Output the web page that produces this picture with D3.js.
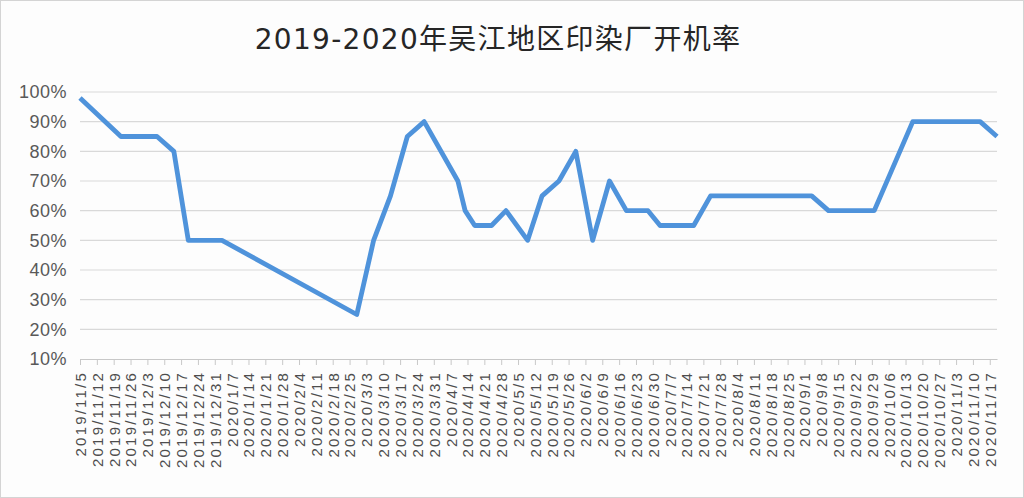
<!DOCTYPE html>
<html>
<head>
<meta charset="utf-8">
<script src="https://cdn.jsdelivr.net/npm/d3@7"></script>
<style>
  html, body { margin: 0; padding: 0; background: #fff; }
  svg { display: block; }
</style>
</head>
<body>
<div id="chart"></div>
<script>
// 开机率数据 (日期, %)
const dates = [
  "2019/11/5", "2019/11/22", "2019/12/7", "2019/12/14", "2019/12/20",
  "2020/1/3", "2020/2/28", "2020/3/6", "2020/3/13", "2020/3/20",
  "2020/3/27", "2020/4/10", "2020/4/13", "2020/4/17", "2020/4/24",
  "2020/4/30", "2020/5/9", "2020/5/15", "2020/5/22", "2020/5/29",
  "2020/6/5", "2020/6/12", "2020/6/19", "2020/6/28", "2020/7/3",
  "2020/7/17", "2020/7/24", "2020/9/4", "2020/9/11", "2020/9/30",
  "2020/10/16", "2020/11/13", "2020/11/20"
];
const rates = [
  98, 85, 85, 80, 50,
  50, 25, 50, 65, 85,
  90, 70, 60, 55, 55,
  60, 50, 65, 70, 80,
  50, 70, 60, 60, 55,
  55, 65, 65, 60, 60,
  90, 90, 85
];
const yTicks = [10, 20, 30, 40, 50, 60, 70, 80, 90, 100];
const title = "2019-2020年吴江地区印染厂开机率";

const W = 1024, H = 498;
const margin = { left: 80, right: 27, top: 92, bottom: 139 };

const parse = d3.timeParse("%Y/%m/%d");
const fmt = d3.timeFormat("%Y/%-m/%-d");
const data = dates.map((d, i) => ({ date: parse(d), value: rates[i] }));

const svg = d3.select("#chart").append("svg")
  .attr("width", W)
  .attr("height", H);

// 背景和外框
svg.append("rect")
  .attr("x", 0.5).attr("y", 0.5)
  .attr("width", W - 1).attr("height", H - 1)
  .attr("fill", "#fdfdfd")
  .attr("stroke", "#d4d4d4");

const x = d3.scaleTime()
  .domain(d3.extent(data, d => d.date))
  .range([margin.left, W - margin.right]);

const y = d3.scaleLinear()
  .domain([10, 100])
  .range([H - margin.bottom, margin.top]);

// 标题
svg.append("text")
  .attr("x", 498)
  .attr("y", 49)
  .attr("text-anchor", "middle")
  .style("font-family", "'DejaVu Sans', 'Noto Sans CJK SC', sans-serif")
  .style("font-size", "28px")
  .style("letter-spacing", "1.3px")
  .attr("fill", "#262626")
  .text(title);

// 网格线
svg.append("g")
  .selectAll("line")
  .data(yTicks.filter(t => t > 10))
  .join("line")
  .attr("x1", margin.left)
  .attr("x2", W - margin.right)
  .attr("y1", d => y(d))
  .attr("y2", d => y(d))
  .attr("stroke", "#d9d9d9")
  .attr("stroke-width", 1.2);

// Y轴
const yAxis = svg.append("g")
  .attr("transform", `translate(${margin.left - 13},0)`)
  .call(d3.axisLeft(y).tickValues(yTicks).tickSize(0).tickFormat(d => d + "%"));
yAxis.select(".domain").remove();
yAxis.selectAll("text")
  .attr("x", 0)
  .style("font-family", "'Liberation Sans', Arial, sans-serif")
  .style("font-size", "18px")
  .style("letter-spacing", "0.5px")
  .attr("fill", "#595959");

// X轴
const xAxis = svg.append("g")
  .attr("transform", `translate(0,${H - margin.bottom})`)
  .call(d3.axisBottom(x)
    .ticks(d3.timeTuesday)
    .tickSize(6)
    .tickSizeOuter(0)
    .tickFormat(fmt));
xAxis.select(".domain").attr("stroke", "#c8c8c8").attr("stroke-width", 1.2);
xAxis.selectAll(".tick line").attr("stroke", "#c8c8c8");
xAxis.selectAll("text")
  .attr("transform", "rotate(-90)")
  .attr("text-anchor", "end")
  .attr("x", -12)
  .attr("y", 0)
  .attr("dy", "0.36em")
  .style("font-family", "'Liberation Sans', Arial, sans-serif")
  .style("font-size", "15px")
  .style("letter-spacing", "2.2px")
  .attr("fill", "#4d4d4d");

// 折线
const line = d3.line()
  .x(d => x(d.date))
  .y(d => y(d.value));

svg.append("path")
  .datum(data)
  .attr("d", line)
  .attr("fill", "none")
  .attr("stroke", "#4f93db")
  .attr("stroke-width", 4.8)
  .attr("stroke-linejoin", "round")
  .attr("stroke-linecap", "butt");
</script>
</body>
</html>
